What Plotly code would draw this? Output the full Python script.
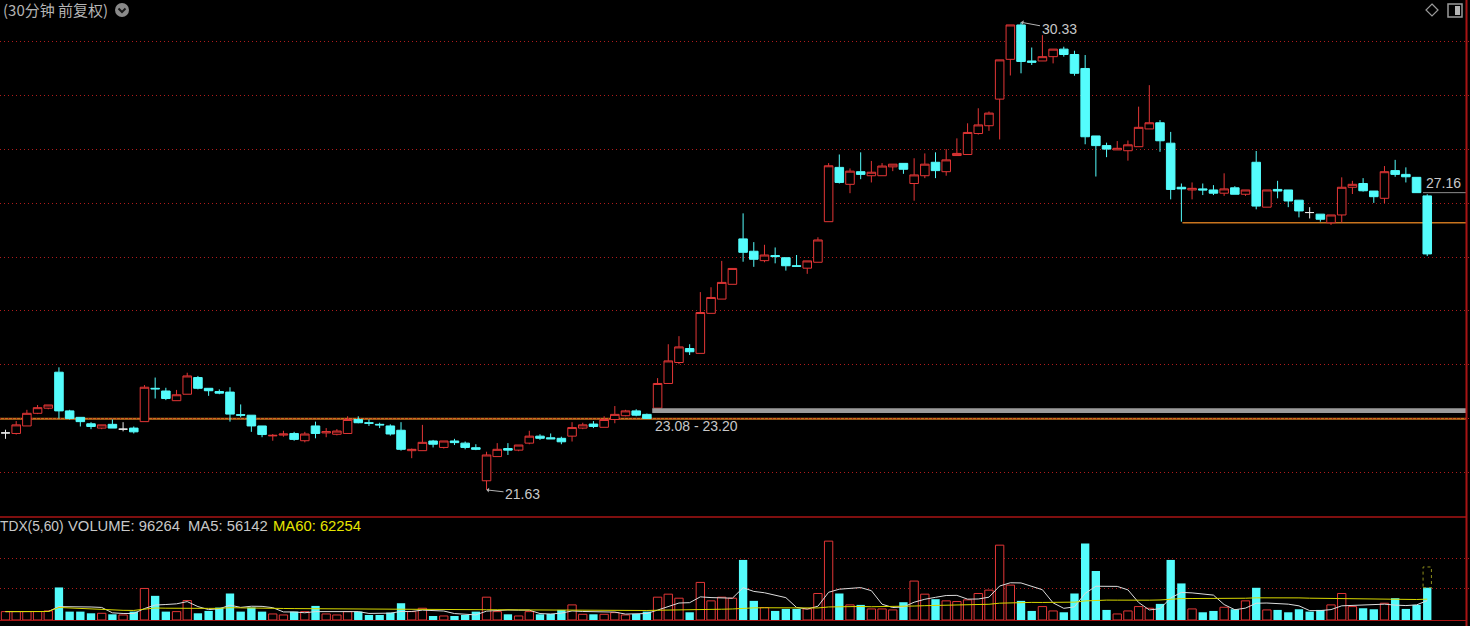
import plotly.graph_objects as go
import pandas as pd

W, H = 1470, 626

# ---------------- data (30-minute candles, forward adjusted) ----------------
opens = [22.69, 22.68, 22.82, 23.055, 23.15, 23.82, 23.10, 22.98, 22.86, 22.78,
         22.85, 22.76, 22.78, 22.90, 23.52, 23.47, 23.29, 23.41, 23.72, 23.52,
         23.46, 23.45, 23.03, 23.02, 22.82, 22.635, 22.65, 22.68, 22.545, 22.82,
         22.69, 22.665, 22.68, 22.94, 22.88, 22.85, 22.82, 22.74, 22.36, 22.36,
         22.54, 22.42, 22.54, 22.50, 22.415, 21.80, 22.25, 22.40, 22.37, 22.50,
         22.63, 22.60, 22.59, 22.63, 22.78, 22.855, 22.795, 22.94, 23.01, 23.10,
         23.035, 23.15, 23.61, 24.00, 24.26, 24.17, 24.915, 25.18, 25.455, 26.30,
         26.07, 25.895, 25.99, 25.95, 25.80, 25.755, 25.865, 26.62, 27.63, 27.315,
         27.55, 27.475, 27.475, 27.64, 27.705, 27.33, 27.475, 27.725, 27.55, 27.85,
         27.87, 28.26, 28.405, 28.90, 29.64, 30.28, 29.61, 29.61, 29.69, 29.83,
         29.73, 29.47, 28.215, 28.035, 27.955, 27.94, 28.015, 28.345, 28.46, 28.08,
         27.26, 27.21, 27.23, 27.21, 27.15, 27.25, 27.13, 27.725, 26.89, 27.22,
         27.21, 27.02, 26.79, 26.76, 26.60, 26.745, 27.26, 27.33, 27.19, 27.055,
         27.57, 27.50, 27.445, 27.10]

highs = [22.75, 22.91, 23.12, 23.21, 23.21, 23.91, 23.12, 22.98, 22.89, 22.84,
         22.94, 22.89, 22.81, 23.58, 23.72, 23.53, 23.49, 23.81, 23.75, 23.52,
         23.50, 23.54, 23.22, 23.02, 22.82, 22.67, 22.73, 22.71, 22.71, 22.90,
         22.78, 22.76, 23.00, 23.00, 22.94, 22.88, 22.85, 22.89, 22.40, 22.84,
         22.56, 22.54, 22.58, 22.53, 22.48, 22.34, 22.50, 22.50, 22.465, 22.73,
         22.665, 22.68, 22.62, 22.89, 22.88, 22.91, 23.00, 23.19, 23.12, 23.13,
         23.05, 23.71, 24.34, 24.49, 24.34, 25.31, 25.40, 25.89, 25.75, 26.775,
         26.24, 26.19, 26.14, 25.95, 26.00, 25.89, 26.33, 27.71, 27.87, 27.61,
         27.91, 27.75, 27.71, 27.69, 27.705, 27.80, 27.89, 27.91, 27.97, 28.17,
         28.45, 28.73, 28.67, 29.63, 30.28, 30.33, 29.86, 30.09, 29.83, 29.875,
         29.80, 29.72, 28.215, 28.09, 28.12, 28.13, 28.76, 29.16, 28.51, 28.29,
         27.33, 27.35, 27.33, 27.30, 27.52, 27.28, 27.21, 27.935, 27.21, 27.38,
         27.21, 27.02, 26.89, 26.76, 26.745, 27.445, 27.38, 27.43, 27.19, 27.655,
         27.77, 27.63, 27.445, 27.13]

lows = [22.58, 22.66, 22.82, 23.04, 23.13, 22.96, 22.94, 22.81, 22.76, 22.76,
        22.78, 22.72, 22.68, 22.90, 23.33, 23.30, 23.29, 23.41, 23.50, 23.38,
        23.41, 22.90, 22.98, 22.71, 22.61, 22.545, 22.62, 22.545, 22.515, 22.59,
        22.61, 22.645, 22.68, 22.87, 22.82, 22.78, 22.64, 22.36, 22.22, 22.36,
        22.42, 22.40, 22.465, 22.385, 22.37, 21.63, 22.25, 22.28, 22.35, 22.48,
        22.56, 22.58, 22.48, 22.53, 22.76, 22.78, 22.795, 22.87, 23.00, 23.00,
        22.95, 23.15, 23.61, 23.97, 24.14, 24.17, 24.915, 25.18, 25.455, 25.875,
        25.78, 25.865, 25.845, 25.71, 25.79, 25.65, 25.865, 26.62, 27.33, 27.15,
        27.41, 27.35, 27.475, 27.56, 27.51, 27.01, 27.43, 27.43, 27.475, 27.85,
        27.87, 28.24, 28.31, 28.15, 29.34, 29.38, 29.535, 29.61, 29.565, 29.69,
        29.335, 28.06, 27.46, 27.82, 27.955, 27.755, 28.015, 28.345, 27.92, 27.035,
        26.62, 27.035, 27.115, 27.115, 27.10, 27.13, 27.10, 26.85, 26.89, 27.055,
        26.89, 26.70, 26.68, 26.62, 26.56, 26.60, 27.135, 27.18, 26.97, 26.96,
        27.455, 27.35, 27.16, 25.98]

closes = [22.69, 22.84, 23.055, 23.16, 23.21, 23.10, 22.96, 22.90, 22.81, 22.84,
          22.78, 22.76, 22.71, 23.54, 23.51, 23.33, 23.40, 23.75, 23.52, 23.475,
          23.43, 23.04, 23.02, 22.82, 22.66, 22.645, 22.67, 22.57, 22.67, 22.68,
          22.715, 22.725, 22.94, 22.88, 22.87, 22.84, 22.67, 22.385, 22.385, 22.515,
          22.48, 22.54, 22.51, 22.42, 22.385, 22.28, 22.385, 22.37, 22.465, 22.63,
          22.59, 22.58, 22.525, 22.79, 22.84, 22.81, 22.94, 23.035, 23.10, 23.02,
          22.96, 23.61, 24.03, 24.29, 24.20, 24.93, 25.21, 25.49, 25.75, 26.05,
          25.92, 26.00, 25.97, 25.80, 25.79, 25.89, 26.28, 27.66, 27.35, 27.56,
          27.50, 27.54, 27.655, 27.69, 27.595, 27.49, 27.69, 27.57, 27.77, 27.89,
          28.28, 28.42, 28.64, 29.63, 30.28, 29.60, 29.585, 29.69, 29.83, 29.73,
          29.38, 28.20, 28.035, 27.97, 27.985, 28.05, 28.375, 28.46, 28.125, 27.22,
          27.23, 27.24, 27.21, 27.15, 27.23, 27.13, 27.21, 26.91, 27.21, 27.19,
          27.005, 26.82, 26.79, 26.665, 26.745, 27.26, 27.315, 27.195, 27.085, 27.55,
          27.50, 27.455, 27.16, 26.02]

volumes = [25000, 25000, 25000, 25000, 27000, 97000, 25000, 25000, 20000, 20000,
           17000, 15000, 25000, 94000, 72000, 25000, 25000, 58000, 20000, 27000,
           37000, 79000, 25000, 37000, 25000, 18000, 15000, 25000, 25000, 42000,
           18000, 15000, 25000, 25000, 15000, 15000, 22000, 50000, 25000, 35000,
           12000, 12000, 12000, 15000, 25000, 68000, 25000, 17000, 12000, 25000,
           17000, 18000, 30000, 45000, 17000, 17000, 17000, 22000, 15000, 18000,
           25000, 68000, 77000, 65000, 23000, 112000, 57000, 68000, 65000, 179000,
           57000, 37000, 27000, 33000, 33000, 33000, 79000, 235000, 79000, 45000,
           45000, 33000, 33000, 30000, 53000, 116000, 77000, 62000, 57000, 55000,
           60000, 79000, 89000, 223000, 104000, 57000, 27000, 40000, 27000, 23000,
           79000, 228000, 146000, 30000, 18000, 27000, 40000, 35000, 48000, 179000,
           109000, 33000, 23000, 27000, 38000, 32000, 57000, 96000, 30000, 30000,
           23000, 32000, 25000, 30000, 45000, 79000, 40000, 35000, 32000, 50000,
           65000, 33000, 45000, 96264]

# volume colour of the three doji (open == close) bars: True = red
doji_volume_red = {0: True, 11: True, 122: False}

projected_volume = 158000          # dotted outline over the last bar
band_low, band_high = 23.06, 23.15  # grey band "23.08 - 23.20"
support_line = 22.955               # long orange line
support_line2 = 26.60               # right orange line
last_close_line = 27.16
title_text = "(30分钟 前复权)"
high_label, low_label = "30.33", "21.63"
band_label = "23.08 - 23.20"
last_label = "27.16"
vol_items = ["TDX(5,60)", "VOLUME: 96264", "MA5: 56142", "MA60: 62254"]
price_grid = [21.953, 22.955, 23.957, 24.959, 25.961, 26.962, 27.964, 28.966, 29.968]
vol_grid = [95360, 184760]

# ---------------- styling ----------------
RED = '#e23636'
CYAN = '#54fcfc'
WHITE = '#e8e8e8'
GRID = '#b01c1c'
GRID_DASH = '1px,3px'
FONT = 'Liberation Sans, Arial, Noto Sans CJK SC, sans-serif'

n = len(closes)
idx = list(range(n))
df = pd.DataFrame(dict(o=opens, h=highs, l=lows, c=closes, v=volumes), index=idx)
up = df[df.c > df.o]
dn = df[df.c < df.o]
dj = df[df.c == df.o]

ma5 = df.v.rolling(5, min_periods=1).mean()
ma60 = df.v.rolling(60, min_periods=1).mean()

vol_red = [(c > o) or (c == o and doji_volume_red.get(i, True)) for i, o, c in zip(idx, opens, closes)]
vr = df[[r for r in vol_red]]
vc = df[[not r for r in vol_red]]


def px(x):
    return x / W


def py(y):
    return 1 - y / H


fig = go.Figure()

fig.add_trace(go.Candlestick(
    x=up.index, open=up.o, high=up.h, low=up.l, close=up.c,
    increasing=dict(line=dict(color=RED, width=1), fillcolor='#000000'),
    decreasing=dict(line=dict(color=RED, width=1), fillcolor='#000000'),
    whiskerwidth=0, hoverinfo='skip', xaxis='x', yaxis='y'))
fig.add_trace(go.Candlestick(
    x=dn.index, open=dn.o, high=dn.h, low=dn.l, close=dn.c,
    increasing=dict(line=dict(color=CYAN, width=1), fillcolor=CYAN),
    decreasing=dict(line=dict(color=CYAN, width=1), fillcolor=CYAN),
    whiskerwidth=0, hoverinfo='skip', xaxis='x', yaxis='y'))
fig.add_trace(go.Candlestick(
    x=dj.index, open=dj.o, high=dj.h, low=dj.l, close=dj.c,
    increasing=dict(line=dict(color=WHITE, width=1), fillcolor=WHITE),
    decreasing=dict(line=dict(color=WHITE, width=1), fillcolor=WHITE),
    whiskerwidth=0, hoverinfo='skip', xaxis='x', yaxis='y'))

fig.add_trace(go.Bar(x=vr.index, y=vr.v, width=0.78,
                     marker=dict(color='#000000', line=dict(color=RED, width=1)),
                     hoverinfo='skip', xaxis='x2', yaxis='y2'))
fig.add_trace(go.Bar(x=vc.index, y=vc.v, width=0.78,
                     marker=dict(color=CYAN, line=dict(color=CYAN, width=0)),
                     hoverinfo='skip', xaxis='x2', yaxis='y2'))
fig.add_trace(go.Scatter(x=idx, y=ma5, mode='lines', line=dict(color='#dcdcdc', width=1),
                         hoverinfo='skip', xaxis='x2', yaxis='y2'))
fig.add_trace(go.Scatter(x=idx, y=ma60, mode='lines', line=dict(color='#d8d800', width=1),
                         hoverinfo='skip', xaxis='x2', yaxis='y2'))

XR = [-0.515, 137.0]
main_dom = [py(517), 1]
vol_dom = [py(620), py(517)]
y_top = 30.744
y_bot = 21.126
v_top = 306940

shapes = []
# grey band
shapes.append(dict(type='rect', xref='x', yref='y', x0=60.5, x1=136.7, y0=band_low, y1=band_high,
                   fillcolor='#9c9c9c', line=dict(width=0), layer='above'))
# orange lines
shapes.append(dict(type='line', xref='paper', yref='y', x0=0, x1=px(1466), y0=support_line, y1=support_line,
                   line=dict(color='#c8741e', width=2), layer='below'))
shapes.append(dict(type='line', xref='x', yref='y', x0=110.1, x1=136.7, y0=support_line2, y1=support_line2,
                   line=dict(color='#c8741e', width=1.5), layer='below'))
# last close marker line
shapes.append(dict(type='line', xref='paper', yref='y', x0=px(1423), x1=px(1466), y0=last_close_line,
                   y1=last_close_line, line=dict(color='#8c8c8c', width=1)))
# projected volume outline
shapes.append(dict(type='rect', xref='x2', yref='y2', x0=133 - 0.39, x1=133 + 0.39, y0=volumes[-1],
                   y1=projected_volume, line=dict(color='#8e8e1c', width=1, dash='dot'), fillcolor='rgba(0,0,0,0)'))
# panel borders
shapes.append(dict(type='line', xref='paper', yref='paper', x0=0, x1=px(1466), y0=py(517), y1=py(517),
                   line=dict(color='#a81414', width=1.5)))
shapes.append(dict(type='line', xref='paper', yref='paper', x0=0, x1=px(1466), y0=py(620.5), y1=py(620.5),
                   line=dict(color='#a81414', width=1.2)))
shapes.append(dict(type='line', xref='paper', yref='paper', x0=px(1466.5), x1=px(1466.5), y0=0, y1=1,
                   line=dict(color='#a81414', width=2)))
# title icon (circle with chevron)
shapes.append(dict(type='circle', xref='paper', yref='paper', x0=px(115), x1=px(129), y0=py(17), y1=py(3),
                   fillcolor='#8a8a8a', line=dict(width=0)))
shapes.append(dict(type='path', xref='paper', yref='paper',
                   path=f'M {px(118.5)} {py(8.5)} L {px(122)} {py(12)} L {px(125.5)} {py(8.5)}',
                   line=dict(color='#1a1a1a', width=2)))
# top right icons
shapes.append(dict(type='path', xref='paper', yref='paper',
                   path=f'M {px(1432)} {py(4)} L {px(1438)} {py(10)} L {px(1432)} {py(16)} L {px(1426)} {py(10)} Z',
                   line=dict(color='#9a9a9a', width=1.2)))
shapes.append(dict(type='rect', xref='paper', yref='paper', x0=px(1448), x1=px(1462), y0=py(17), y1=py(4),
                   line=dict(color='#9a9a9a', width=1.5)))
shapes.append(dict(type='rect', xref='paper', yref='paper', x0=px(1455), x1=px(1460), y0=py(15), y1=py(6),
                   fillcolor='#b4b4b4', line=dict(width=0)))

LBL = '#c8c8c8'
ann = []
ann.append(dict(xref='paper', yref='paper', x=px(1), y=py(10), xanchor='left', yanchor='middle',
                text=title_text, showarrow=False,
                font=dict(family='Noto Sans CJK SC, sans-serif', size=15, color='#b4b4b4')))
ann.append(dict(xref='x', yref='y', x=95, y=highs[95], text=high_label, showarrow=True, ax=38, ay=7,
                arrowhead=1, arrowsize=0.8, arrowwidth=1, arrowcolor='#b4b4b4', standoff=0,
                font=dict(family=FONT, size=14, color=LBL)))
ann.append(dict(xref='x', yref='y', x=45, y=lows[45], text=low_label, showarrow=True, ax=36, ay=4,
                arrowhead=1, arrowsize=0.8, arrowwidth=1, arrowcolor='#b4b4b4', standoff=0,
                font=dict(family=FONT, size=14, color=LBL)))
ann.append(dict(xref='paper', yref='paper', x=px(653), y=py(426), xanchor='left', yanchor='middle',
                text=band_label, showarrow=False, font=dict(family=FONT, size=14, color=LBL)))
ann.append(dict(xref='paper', yref='paper', x=px(1424), y=py(183), xanchor='left', yanchor='middle',
                text=last_label, showarrow=False, font=dict(family=FONT, size=14, color=LBL)))
# volume panel header, items at their own positions
item_x = [-2, 66, 186, 271]
item_size = [13.8, 14.8, 14.8, 14.8]
item_col = [LBL, LBL, LBL, '#e6e600']
for t, xx, sz, col in zip(vol_items, item_x, item_size, item_col):
    ann.append(dict(xref='paper', yref='paper', x=px(xx), y=py(526), xanchor='left', yanchor='middle',
                    text=t, showarrow=False, font=dict(family=FONT, size=sz, color=col)))

fig.update_layout(
    width=W, height=H, margin=dict(l=0, r=0, t=0, b=0, pad=0),
    paper_bgcolor='#000000', plot_bgcolor='#000000', showlegend=False,
    barmode='overlay', boxgap=0.2, boxgroupgap=0, hovermode=False,
    xaxis=dict(domain=[0, 1], range=XR, showgrid=False, zeroline=False, showticklabels=False,
               showline=False, rangeslider=dict(visible=False), anchor='y', fixedrange=True),
    xaxis2=dict(domain=[0, 1], range=XR, showgrid=False, zeroline=False, showticklabels=False,
                showline=False, matches='x', anchor='y2', fixedrange=True),
    yaxis=dict(domain=main_dom, range=[y_bot, y_top], tickvals=price_grid, showticklabels=False,
               gridcolor=GRID, griddash=GRID_DASH, gridwidth=1, zeroline=False, showline=False, fixedrange=True),
    yaxis2=dict(domain=vol_dom, range=[0, v_top], tickvals=vol_grid, showticklabels=False,
                gridcolor=GRID, griddash=GRID_DASH, gridwidth=1, zeroline=False, showline=False, fixedrange=True),
    shapes=shapes, annotations=ann,
)

fig.write_html("out.html", config={'displayModeBar': False},
               post_script="document.body.style.margin='0';document.body.style.overflow='hidden';")
